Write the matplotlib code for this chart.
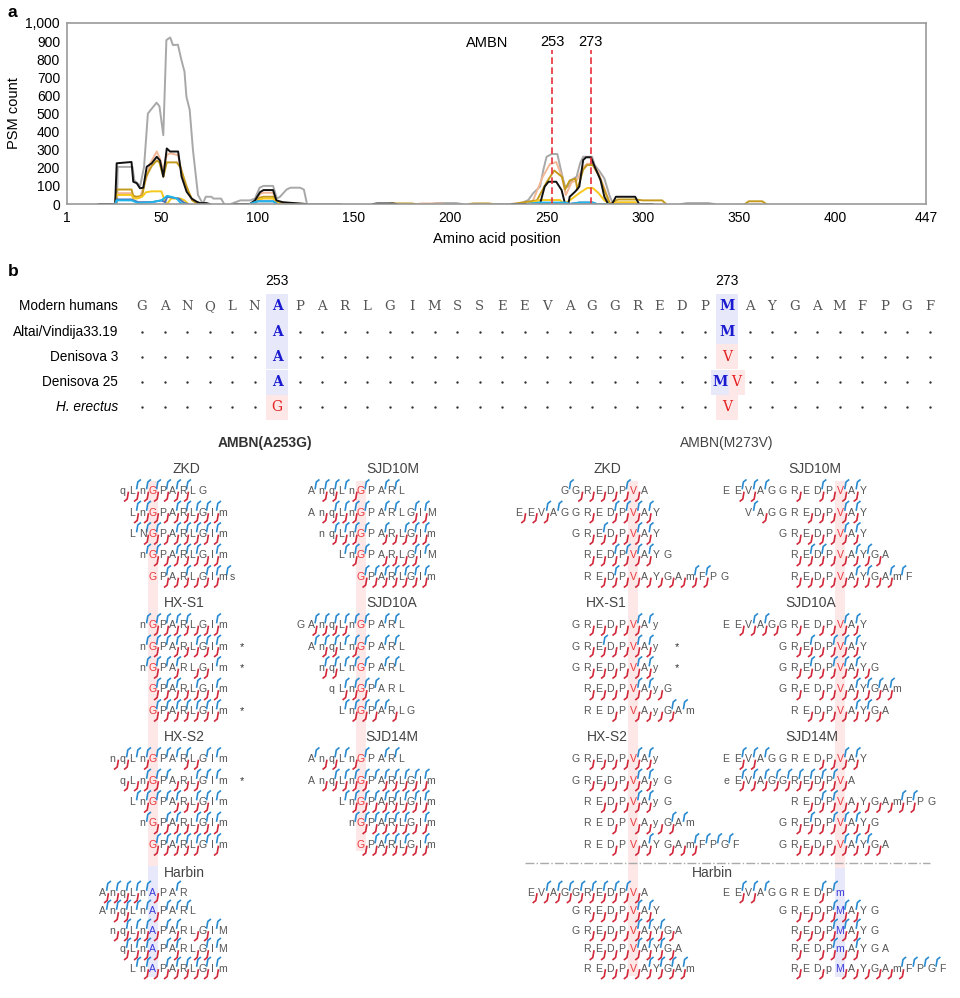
import numpy as np
import matplotlib.pyplot as plt
from matplotlib.patches import Rectangle

plt.rcParams['font.family'] = ['Liberation Sans', 'DejaVu Sans']

nan = np.nan

# ---------------- panel a: PSM counts along AMBN ----------------
harbin_x = [17, 27, 27.3, 35, 36, 39, 41, 43, 47.5, 49, 51, 52.6, 54.6, 56, 58.6, 60.3, 62, 63, 64.7, 66.4, 69, 71.6,
            73, 76, 77, 81, 82.6, nan, 86, 91, 96, 98.6, 101, 103, 108, 110, 111.6, 115, 117, 122, 124, 125.6, 143,
            nan, 190, 193, 203, 206, nan, 218, 236, 240.5, 243, 246.6, 248.3, 250, 252.7, 255.6, 257.8, 259.6, 261.3,
            263, 265.6, 267.4, 269, 273.6, 275, 277.7, 280, 282.9, 284.6, 300, nan, 320, 323, 334, 337]
harbin_y = [0, 0, 205, 205, 130, 100, 205, 500, 560, 540, 380, 906, 920, 878, 880, 800, 731, 593, 520, 298, 50, 0,
            40, 40, 30, 30, 0, nan, 0, 20, 20, 30, 90, 100, 100, 30, 40, 80, 90, 90, 80, 0, 0,
            nan, 0, 5, 5, 0, nan, 0, 0, 22, 59, 96, 188, 261, 276, 276, 171, 96, 96,
            133, 151, 225, 261, 261, 215, 178, 141, 40, 0, 0, nan, 0, 5, 5, 0]

zkd_x = [18, 26, 26.8, 34.5, 35.4, 37.2, 38.9, 40.6, 42.4, 45, 47.6, 49.3, 51, 52.8, 54.5, 58.7, 60.5, 63.1, 65.7,
         68.3, 70, 73.4, 75, nan, 88, 96, 98.6, 101.2, 103, 108, 109.7, 113, 125, nan, 160, 162, 170, 172, nan,
         232, 246.6, 249, 251, 255, 257.8, 259.6, 261.3, 262, 265, 267, 269, 270.5, 273, 275, 278, 280, 282, 284,
         286, 296, 298, 305]
zkd_y = [0, 0, 225, 232, 123, 115, 87, 90, 206, 225, 261, 240, 151, 307, 290, 290, 151, 68, 30,
         13, 5, 5, 0, nan, 0, 0, 20, 65, 77, 77, 20, 10, 0, nan, 0, 3, 3, 0, nan,
         0, 0, 96, 123, 123, 77, 0, 0, 40, 70, 96, 243, 258, 258, 206, 133, 40, 0, 0,
         40, 40, 0, 0]

sjd10m_x = [18, 26, 26.8, 34.5, 35.4, 38.9, 42.4, 44, 47.6, 49.3, 51, 52.8, 54.5, 58.7, 60.5, 63, 66.5, 70, nan,
            88, 96, 98.6, 101.2, 103, 108, 109.7, 113, 125, nan, 183, 185, 195, 197, nan,
            232, 240, 243, 248, 251.7, 255, 258, 260, 263, 265.6, 269, 271, 274, 277, 281, 283, 300]
sjd10m_y = [0, 0, 60, 60, 40, 35, 150, 220, 290, 250, 180, 270, 280, 270, 180, 80, 20, 0, nan,
            0, 0, 15, 55, 62, 62, 15, 5, 0, nan, 0, 3, 3, 0, nan,
            0, 0, 20, 150, 220, 232, 150, 50, 120, 130, 200, 222, 222, 170, 60, 0, 0]

sjd14m_x = [18, 26, 26.8, 34.5, 35.4, 37.2, 40, 42, 45, 47.6, 49, 51, 52.8, 54.5, 58, 60, 63, 66, 69, nan,
            88, 96, 98.6, 101, 103, 108, 110, 113, 125, nan, 168, 170, 180, 182, nan, 210, 212, 220, 222, nan,
            232, 245, 250, 254, 258, 259.6, 262, 265, 266, 269, 271, 274, 277, 281, 283, 287, 296, 300, 310, 312,
            nan, 353, 355, 362, 364]
sjd14m_y = [0, 0, 80, 80, 45, 40, 45, 150, 210, 240, 230, 150, 230, 230, 230, 200, 100, 20, 0, nan,
            0, 0, 10, 35, 40, 40, 10, 3, 0, nan, 0, 3, 3, 0, nan, 0, 3, 3, 0, nan,
            0, 20, 120, 185, 150, 80, 130, 140, 80, 190, 215, 215, 160, 50, 0, 25, 25, 20, 20, 0,
            nan, 0, 15, 15, 0]

sjd10a_x = [18, 26, 26.8, 34.5, 35.4, 37.2, 40, 42, 45, 50, 51, 52, 53, 55, 60, 62, 64, nan,
            90, 96, 99, 101, 103, 108, 110, 113, nan,
            240, 246.6, 257, 259, 262, 267, 271, 274, 277, 280, 283, 287, 296, 298]
sjd10a_y = [0, 0, 50, 50, 32, 30, 40, 65, 70, 70, 40, 10, 0, 30, 30, 20, 0, nan,
            0, 0, 10, 25, 30, 30, 10, 0, nan,
            0, 22, 22, 0, 20, 60, 88, 88, 60, 20, 0, 10, 10, 0]

hxs1_x = [26, 26.8, 34.5, 38, 45, 50, 52, 53, 56, 59, 62, 64, nan, 96, 100, 108, 110, nan,
          240, 246, 260, 262, 267, 274, 276, 282]
hxs1_y = [0, 25, 25, 10, 10, 20, 10, 40, 35, 30, 5, 0, nan, 0, 15, 15, 0, nan,
          0, 5, 5, 0, 8, 8, 0, 0]

hxs2_x = [26, 26.8, 34.5, 38, 45, 50, 53, 55, 58, 60, 62, nan, 96, 100, 108, 110, nan,
          240, 246, 260, 262, 267, 274, 276, 282]
hxs2_y = [0, 20, 20, 5, 10, 20, 45, 40, 30, 5, 0, nan, 0, 15, 15, 0, nan,
          0, 8, 8, 0, 8, 8, 0, 0]

series = [
    ("Harbin", harbin_x, harbin_y, "#a8a8a8"),
    ("SJD10M", sjd10m_x, sjd10m_y, "#f2b896"),
    ("SJD14M", sjd14m_x, sjd14m_y, "#c49a1c"),
    ("SJD10A", sjd10a_x, sjd10a_y, "#f7c81e"),
    ("ZKD", zkd_x, zkd_y, "#111111"),
    ("HX-S1", hxs1_x, hxs1_y, "#4a70b8"),
    ("HX-S2", hxs2_x, hxs2_y, "#1fb4ea"),
]
colors = {name: c for name, _, _, c in series}
legend_rows = [["SJD10M", "SJD10A", "SJD14M"], ["ZKD", "HX-S1", "HX-S2", "Harbin"]]
legend_x = [[633, 727, 817], [633, 712, 782, 862]]

xticks = [1, 50, 100, 150, 200, 250, 300, 350, 400, 447]
yticks = list(range(0, 1001, 100))
sites = [253, 273]

# ---------------- panel b: alignment ----------------
mod_seq = "GANQLNAPARLGIMSSEEVAGGREDPMAYGAMFPGF"
seq_first = 247
row_labels = ["Modern humans", "Altai/Vindija33.19", "Denisova 3", "Denisova 25", "H. erectus"]
res_253 = ["A", "A", "A", "A", "G"]
res_273 = ["M", "M", "V", "MV", "V"]

# peptides: (sequence, first position, fragment marks per bond, asterisk)
# marks: b = blue (top), y = red (bottom), x = both, - = none
zkd_253 = [("qLnGPARLG", 250, "yxxxxxx-", 0), ("LnGPARLGIm", 251, "xxyyxxxxx", 0),
           ("LNGPARLGIm", 251, "bxxyxxxxx", 0), ("nGPARLGIm", 252, "bxyxxxyx", 0),
           ("GPARLGIms", 253, "-xyxyxxb", 0)]
hxs1_253 = [("nGPARLGIm", 252, "bxxxxyyx", 0), ("nGPARLGIm", 252, "bxbxyxxx", 1),
            ("nGPARLGIm", 252, "bxbx-yyb", 1), ("GPARLGIm", 253, "xxxyxyx", 0),
            ("GPARLGIm", 253, "xxxxxxx", 1)]
hxs2_253 = [("nqLnGPARLGIm", 249, "yxbxbbbxybb", 0), ("qLnGPARLGIm", 250, "yyxxbyyxbb", 1),
            ("LnGPARLGIm", 251, "bxbbxyxxb", 0), ("nGPARLGIm", 252, "byxxyxxx", 0),
            ("GPARLGIm", 253, "xxxxxbx", 0)]
harbin_253 = [("AnqLnAPAR", 248, "xxxxby-b", 0), ("AnqLnAPARL", 248, "bxxbbybbb", 0),
              ("nqLnAPARLGIM", 249, "yxxxybx-yxb", 0), ("qLnAPARLGIM", 250, "xxxybx-yxb", 0),
              ("LnAPARLGIm", 251, "bxyxxxxxx", 0)]
sjd10m_253 = [("AnqLnGPARL", 248, "bxxbyb-bb", 0), ("AnqLnGPARLGIM", 248, "-yxxxb-bb-xx", 0),
              ("nqLnGPARLGIm", 249, "-xxxb-xyxxx", 0), ("LnGPARLGIM", 251, "bxb-yyyxb", 0),
              ("GPARLGIm", 253, "xxxxxxx", 0)]
sjd10a_253 = [("GAnqLnGPARL", 247, "-xxxxbb-bb", 0), ("AnqLnGPARL", 248, "bxxbxb-bb", 0),
              ("nqLnGPARL", 249, "xxbbb-bb", 0), ("qLnGPARL", 250, "-xxxb--", 0),
              ("LnGPARLG", 251, "bxxxby-", 0)]
sjd14m_253 = [("AnqLnGPARL", 248, "byxbyb-bb", 0), ("AnqLnGPARLGIm", 248, "-yxxxxbxxxxx", 0),
              ("LnGPARLGIm", 251, "bxxxxxxxx", 0), ("nGPARLGIm", 252, "bxxxxxyx", 0),
              ("GPARLGIm", 253, "yxxxxyx", 0)]

zkd_273 = [("GGREDPVA", 267, "byyyyxy", 0), ("EEVAGGREDPVAY", 263, "yyxb--y-xxxx", 0),
           ("GREDPVAY", 268, "-yxyyxx", 0), ("REDPVAYG", 269, "yyxxxx-", 0),
           ("REDPVAYGAmFPG", 269, "-yxyyyyyyxx-", 0)]
hxs1_273 = [("GREDPVAy", 268, "-yyyyxb", 0), ("GREDPVAy", 268, "-yxyyxx", 1),
            ("GREDPVAy", 268, "-yyyyxx", 1), ("REDPVAyG", 269, "yyyyxxy", 0),
            ("REDPVAyGAm", 269, "--y-yyyxb", 0)]
hxs2_273 = [("GREDPVAy", 268, "-yyyyxx", 0), ("GREDPVAyG", 268, "-yyyyxx-", 0),
            ("REDPVAyG", 269, "-yyyxx-", 0), ("REDPVAyGAm", 269, "--y-yyyxb", 0),
            ("REDPVAYGAmFPGF", 269, "--y-yx-yyxbbb", 0)]
harbin_273a = [("EVAGGREDPVA", 264, "yxxxxxxxxy", 0), ("GREDPVAY", 268, "-yyyyxx", 0),
               ("GREDPVAYGA", 268, "-yyyyxxxy", 0), ("REDPVAYGA", 269, "yyyyxxxy", 0),
               ("REDPVAYGAm", 269, "-yyyyxxxx", 0)]
sjd10m_273 = [("EEVAGGREDPVAY", 263, "-xxb--y-xyxx", 0), ("VAGGREDPVAY", 265, "by---yyyxx", 0),
              ("GREDPVAY", 268, "-yyyyxx", 0), ("REDPVAYGA", 269, "yxxyyxxy", 0),
              ("REDPVAYGAmF", 269, "yyyyyxxyxb", 0)]
sjd10a_273 = [("EEVAGGREDPVAY", 263, "-yxxy-y-yyxx", 0), ("GREDPVAY", 268, "-yxyxxx", 0),
              ("GREDPVAYG", 268, "-yxyxxxy", 0), ("GREDPVAYGAm", 268, "-y-yyyxxxx", 0),
              ("REDPVAYGA", 269, "-yyyyxxy", 0)]
sjd14m_273 = [("EEVAGGREDPVAY", 263, "-xxb----yyxx", 0), ("eEVAGGREDPVA", 263, "-xxxxxxxxxy", 0),
              ("REDPVAYGAmFPG", 269, "-yxxyyyyyxx-", 0), ("GREDPVAYG", 268, "-yxyxxxy", 0),
              ("GREDPVAYGA", 268, "-yyyyxxxy", 0)]
harbin_273b = [("EEVAGGREDPm", 263, "-xxb----xb", 0), ("GREDPMAYG", 268, "-yyyxxx-", 0),
               ("REDPMAYG", 269, "yyyxxx-", 0), ("REDPmAYGA", 269, "y-yxyx--", 0),
               ("REDpMAYGAmFPGF", 269, "y-y-yyyyyxbbb", 0)]

BLUE_ION = "#2a8bd0"
RED_ION = "#d2283a"
GRAY_TXT = "#555555"
PINK_BG = "#fde7e7"
BLUE_BG = "#e8e8fb"

fig = plt.figure(figsize=(9.6, 9.98), dpi=100)
bx = fig.add_axes([0, 0, 1, 1])
bx.set_xlim(0, 960)
bx.set_ylim(998, 0)
bx.axis('off')

# ---- panel a axes ----
ax = fig.add_axes([67 / 960, 1 - 204 / 998, (926 - 67) / 960, (204 - 23) / 998])
for name, xs, ys, c in series:
    ax.plot(xs, ys, color=c, lw=1.4, solid_joinstyle='round')
ax.set_xlim(1, 447)
ax.set_ylim(0, 1000)
ax.set_xticks(xticks)
ax.set_yticks(yticks)
ax.set_yticklabels([f"{v:,}" for v in yticks])
ax.tick_params(length=0, labelsize=10, pad=5)
for s in ax.spines.values():
    s.set_color('#9a9a9a')
    s.set_linewidth(1.2)
ax.set_xlabel("Amino acid position", fontsize=10.5, labelpad=5)
ax.set_ylabel("PSM count", fontsize=10.5, labelpad=3)
for s in sites:
    ax.plot([s, s], [0, 850], color='#e8303a', ls=(0, (4, 2)), lw=1.2)
    ax.text(s, 895, str(s), ha='center', va='center', fontsize=10.5)
ax.text(219, 890, "AMBN", ha='center', va='center', fontsize=10.5)

for r, (names, xs) in enumerate(zip(legend_rows, legend_x)):
    yy = 42 + 18 * r
    for name, x0 in zip(names, xs):
        bx.plot([x0, x0 + 15], [yy, yy], color=colors[name], lw=2)
        bx.text(x0 + 20, yy, name, ha='left', va='center', fontsize=10.5)

bx.text(8, 12, "a", fontsize=12.5, fontweight='bold', va='center')
bx.text(8, 272, "b", fontsize=12.5, fontweight='bold', va='center')

# ---- alignment ----
cx0, csp = 142, 22.5
ry0, rsp = 306.5, 25.2
SEQ_FONT = 'DejaVu Serif'


def col_x(pos):
    return cx0 + (pos - seq_first) * csp


for site, res in ((253, res_253), (273, res_273)):
    xc = col_x(site)
    bx.text(xc, 281, str(site), ha='center', va='center', fontsize=10)
    for r, aa in enumerate(res):
        yc = ry0 + r * rsp
        if len(aa) == 2:
            bx.add_patch(Rectangle((xc - 16, yc - 12.5), 17.5, 25, color=BLUE_BG, lw=0))
            bx.add_patch(Rectangle((xc + 1.5, yc - 12.5), 16, 25, color=PINK_BG, lw=0))
            bx.text(xc - 7, yc, aa[0], ha='center', va='center', fontsize=10, color='#1a1ad0',
                    family=SEQ_FONT, fontweight='bold')
            bx.text(xc + 9, yc, aa[1], ha='center', va='center', fontsize=10, color='#e42020',
                    family=SEQ_FONT)
            continue
        blue = aa in "AM"
        bx.add_patch(Rectangle((xc - 11, yc - 12.5), 22, 25, color=BLUE_BG if blue else PINK_BG, lw=0))
        bx.text(xc, yc, aa, ha='center', va='center', fontsize=10, family=SEQ_FONT,
                color='#1a1ad0' if blue else '#e42020', fontweight='bold' if blue else 'normal')

for r, lab in enumerate(row_labels):
    yc = ry0 + r * rsp
    bx.text(118, yc, lab, ha='right', va='center', fontsize=9.8,
            style='italic' if lab.startswith("H.") else 'normal')
    for i, ch in enumerate(mod_seq):
        pos = seq_first + i
        if pos in sites:
            continue
        if r == 0:
            bx.text(col_x(pos), yc, ch, ha='center', va='center', fontsize=9.5,
                    family=SEQ_FONT, color=GRAY_TXT)
        else:
            bx.scatter([col_x(pos)], [yc], s=3, color='#333333', lw=0)

# ---- peptide panels ----
bx.text(265, 443, "AMBN(A253G)", ha='center', va='center', fontsize=10, fontweight='bold', color='#333333')
bx.text(727, 443, "AMBN(M273V)", ha='center', va='center', fontsize=10, color='#444444')


def draw_pep(seq, start, marks, star, site, sx, y, sp):
    for i, ch in enumerate(seq):
        pos = start + i
        x = sx + (pos - site) * sp
        c = GRAY_TXT
        if pos == site:
            c = '#e8383d' if ch in 'GV' else '#3a3ad8'
        bx.text(x, y + 0.5, ch, ha='center', va='center', fontsize=7.6, color=c, zorder=3)
    for i, m in enumerate(marks):
        gx = sx + (start + i + 0.5 - site) * sp
        if m in 'bx':
            bx.plot([gx - 0.8, gx + 0.3, gx + 2.8], [y - 2, y - 8.5, y - 10.5], color=BLUE_ION, lw=1.2,
                    zorder=2)
        if m in 'yx':
            bx.plot([gx + 0.8, gx - 0.3, gx - 2.8], [y + 2, y + 8.5, y + 10.5], color=RED_ION, lw=1.2,
                    zorder=2)
    if star:
        bx.text(sx + (start + len(seq) - site + 0.9) * sp, y + 1, '*', ha='center', va='center',
                fontsize=8, color='#333333')


groups = [
    # (title, title x, title y, peptides, site, site x, spacing, row step)
    ("ZKD", 186, 469, zkd_253, 253, 152.5, 10.0, 21.5),
    ("HX-S1", 184, 603, hxs1_253, 253, 152.5, 10.0, 21.5),
    ("HX-S2", 184, 737, hxs2_253, 253, 152.5, 10.0, 21.5),
    ("Harbin", 184, 873, harbin_253, 253, 152.5, 10.0, 19.0),
    ("SJD10M", 393, 469, sjd10m_253, 253, 361, 10.0, 21.5),
    ("SJD10A", 392, 603, sjd10a_253, 253, 361, 10.0, 21.5),
    ("SJD14M", 392, 737, sjd14m_253, 253, 361, 10.0, 21.5),
    ("ZKD", 607, 469, zkd_273, 273, 633, 11.4, 21.5),
    ("HX-S1", 606, 603, hxs1_273, 273, 633, 11.4, 21.5),
    ("HX-S2", 607, 737, hxs2_273, 273, 633, 11.4, 21.5),
    ("", 0, 873, harbin_273a, 273, 633, 11.4, 19.0),
    ("SJD10M", 815, 469, sjd10m_273, 273, 840, 11.4, 21.5),
    ("SJD10A", 811, 603, sjd10a_273, 273, 840, 11.4, 21.5),
    ("SJD14M", 812, 737, sjd14m_273, 273, 840, 11.4, 21.5),
    ("Harbin", 712, 873, harbin_273b, 273, 840, 11.4, 19.0),
]

# background bands behind the variant column
bands = [(152.5, 10.0, 481, 866, PINK_BG), (152.5, 10.0, 866, 977, BLUE_BG),
         (361, 10.0, 481, 851, PINK_BG),
         (633, 10.0, 481, 976, PINK_BG),
         (840, 10.0, 481, 868, PINK_BG), (840, 10.0, 868, 977, BLUE_BG)]
for sx, w, y0, y1, c in bands:
    bx.add_patch(Rectangle((sx - w / 2, y0), w, y1 - y0, color=c, lw=0, zorder=0))

for title, tx, ty, peps, site, sx, sp, step in groups:
    if title:
        bx.text(tx, ty, title, ha='center', va='center', fontsize=10, color='#444444')
    for i, (seq, start, marks, star) in enumerate(peps):
        draw_pep(seq, start, marks, star, site, sx, ty + step * (i + 1), sp)

bx.plot([525, 930], [863, 863], color='#aaaaaa', ls='-.', lw=1)

fig.savefig("out.png", dpi=100)
